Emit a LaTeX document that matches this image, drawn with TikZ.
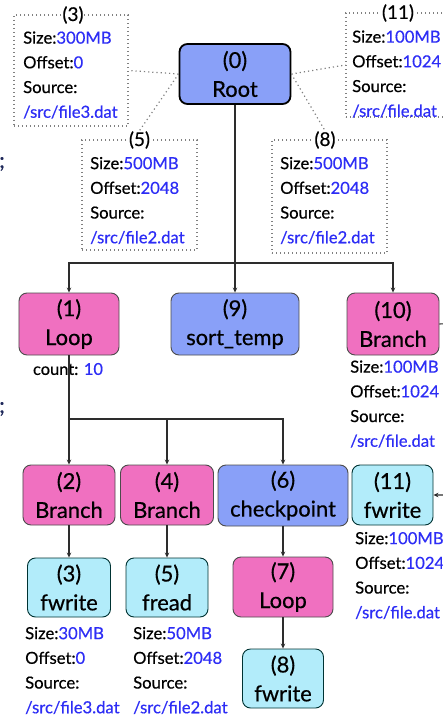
\documentclass[tikz,border=0pt]{standalone}
\usepackage{fontspec}
\setmainfont{Lato}[FakeBold=0.5]
\usetikzlibrary{arrows.meta}
\definecolor{pinkfill}{RGB}{240,112,192}
\definecolor{bluefill}{RGB}{137,160,248}
\definecolor{cyanfill}{RGB}{178,236,250}
\definecolor{valblue}{RGB}{45,45,245}
\definecolor{edgegray}{RGB}{45,45,45}
\definecolor{semicol}{RGB}{30,40,90}
\newcommand\val[1]{\textcolor{valblue}{#1}}
\tikzset{
  box/.style={rounded corners=8bp, draw=black!70, line width=0.9bp, align=center,
    font=\fontsize{22}{29}\selectfont, inner sep=0pt},
  pinkbox/.style={box, fill=pinkfill},
  bluebox/.style={box, fill=bluefill},
  cyanbox/.style={box, fill=cyanfill, draw=black!60!teal},
  rootbox/.style={box, fill=bluefill, draw=black, line width=1.8bp},
  infobox/.style={draw=gray, dash pattern=on 1.2bp off 2.8bp, line width=1.2bp, inner sep=0pt},
  infotxt/.style={align=left, anchor=west, inner sep=0pt, font=\fontsize{16.7}{24.8}\selectfont},
  tag/.style={inner sep=0.5bp, fill=white, font=\fontsize{19}{20}\selectfont},
  dotline/.style={draw=gray, dash pattern=on 1.2bp off 3bp, line width=1.2bp},
  edge/.style={draw=edgegray, line width=1.1bp},
  arr/.style={edge, -{Stealth[length=5bp,width=4.5bp]}}
}
\begin{document}
\begin{tikzpicture}[x=1bp,y=-1bp]
\useasboundingbox (0,0) rectangle (443,717);
\clip (0,0) rectangle (443,717);
% top-level nodes
\node[rootbox, minimum width=111bp, minimum height=60bp] (root) at (235,74) {(0)\\Root};
\node[pinkbox, minimum width=100bp, minimum height=62bp] (n1) at (69,324) {(1)\\Loop};
\node[bluebox, minimum width=128bp, minimum height=62bp] (n9) at (235,324) {(9)\\sort\_temp};
\node[pinkbox, minimum width=92bp, minimum height=62bp] (n10) at (393,324) {(10)\\Branch};
\node[pinkbox, minimum width=92bp, minimum height=60bp] (n2) at (69,495) {(2)\\Branch};
\node[pinkbox, minimum width=93bp, minimum height=60bp] (n4) at (167,495) {(4)\\Branch};
\node[bluebox, minimum width=130bp, minimum height=61bp] (n6) at (283,495.5) {(6)\\checkpoint};
\node[cyanbox, minimum width=81bp, minimum height=60bp] (n11) at (392.5,495) {(11)\\fwrite};
\node[cyanbox, minimum width=83bp, minimum height=59bp] (n3) at (69,587.5) {(3)\\fwrite};
\node[cyanbox, minimum width=82bp, minimum height=59bp] (n5) at (167,587.5) {(5)\\fread};
\node[pinkbox, minimum width=100bp, minimum height=60bp] (n7) at (283,587) {(7)\\Loop};
\node[cyanbox, minimum width=81bp, minimum height=59bp] (n8) at (283,678.5) {(8)\\fwrite};
% dotted info boxes
\node[infobox, minimum width=114bp, minimum height=111bp] (i3) at (71,70.5) {};
\node[infobox, minimum width=115bp, minimum height=110bp] (i5) at (139.5,195) {};
\node[infobox, minimum width=114bp, minimum height=104bp] (i11) at (403,65) {};
\node[infobox, minimum width=115bp, minimum height=113bp] (i8) at (329.5,196.5) {};
\node[infotxt] (t3) at (23,75) {Size:\val{300MB}\\Offset:\val{0}\\Source:\\\val{/src/file3.dat}};
\node[infotxt] (t5) at (90,200.5) {Size:\val{500MB}\\Offset:\val{2048}\\Source:\\\val{/src/file2.dat}};
\node[infotxt] (t11) at (352,74) {Size:\val{100MB}\\Offset:\val{1024}\\Source:\\\val{/src/file.dat}};
\node[infotxt] (t8) at (280,200.5) {Size:\val{500MB}\\Offset:\val{2048}\\Source:\\\val{/src/file2.dat}};
\node[tag] (l3) at (73,15) {(3)};
\node[tag] (l5) at (139.5,140) {(5)};
\node[tag] (l11) at (398,13) {(11)};
\node[tag] (l8) at (325,140) {(8)};
% dotted connectors
\draw[dotline] (root.west) -- (i3.east);
\draw[dotline] (root.west) -- (l5.north);
\draw[dotline] (root.east) -- (i11.west);
\draw[dotline] (root.east) -- (l8.north);
% labels under nodes
\node[inner sep=0pt, font=\fontsize{16.5}{20}\selectfont] (c1) at (68,369) {count: \val{10}};
\node[infotxt] (t10) at (350,404) {Size:\val{100MB}\\Offset:\val{1024}\\Source:\\\val{/src/file.dat}};
\node[infotxt] (t11b) at (355,575.5) {Size:\val{100MB}\\Offset:\val{1024}\\Source:\\\val{/src/file.dat}};
\node[infotxt] (t3b) at (25,670.5) {Size:\val{30MB}\\Offset:\val{0}\\Source:\\\val{/src/file3.dat}};
\node[infotxt] (t5b) at (133,670.5) {Size:\val{50MB}\\Offset:\val{2048}\\Source:\\\val{/src/file2.dat}};
% semicolons at left edge
\node[inner sep=0pt, text=semicol, font=\fontsize{22}{22}\selectfont] (s1) at (2,164) {;};
\node[inner sep=0pt, text=semicol, font=\fontsize{22}{22}\selectfont] (s2) at (2,409) {;};
% tree edges
\coordinate (j0) at (235,263);
\coordinate (j1) at (69,419);
\coordinate (r1) at (458,323);
\draw[edge] (root.south) -- (j0);
\draw[arr] (j0) -| (n1.north);
\draw[arr] (j0) -- (n9.north);
\draw[arr] (j0) -| (n10.north);
\draw[edge] (n1.south) -- (j1);
\draw[arr] (j1) -- (n2.north);
\draw[arr] (j1) -| (n4.north);
\draw[arr] (j1) -| (n6.north);
\draw[arr] (n2) -- (n3);
\draw[arr] (n4) -- (n5);
\draw[arr] (n6) -- (n7);
\draw[arr] (n7) -- (n8);
\draw[arr] (n10.east) -- (r1) |- (n11.east);
\end{tikzpicture}
\end{document}
